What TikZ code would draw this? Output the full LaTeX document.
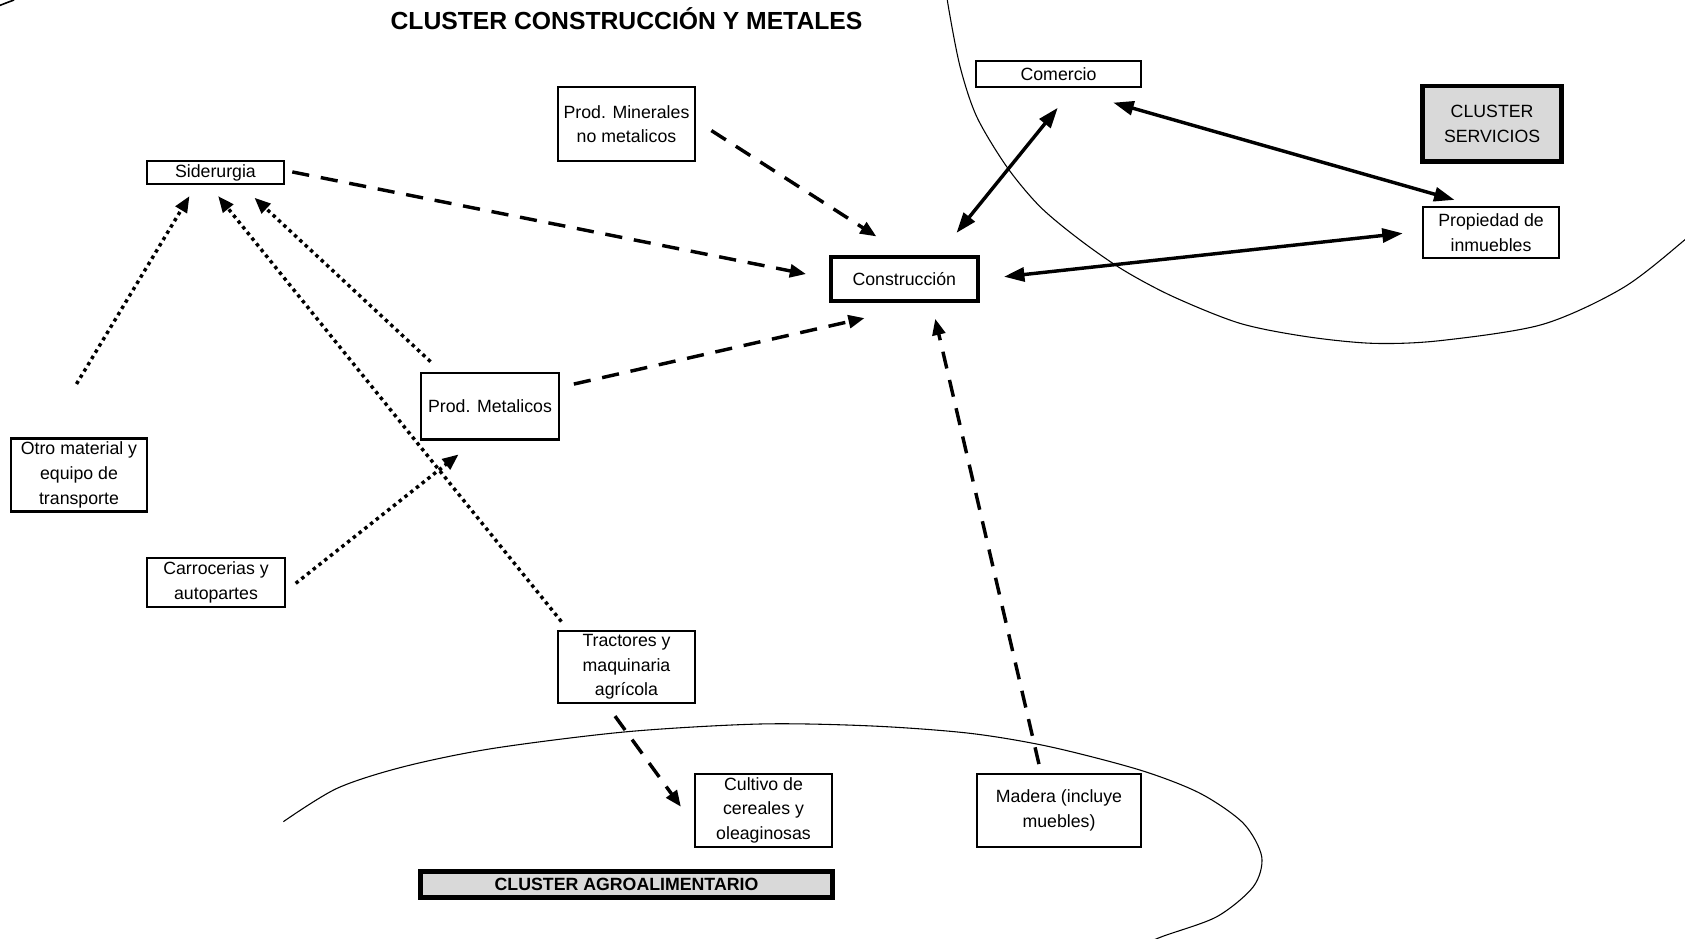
\documentclass[tikz,border=0pt]{standalone}
\usepackage{fontspec}
\setmainfont{Liberation Sans}
\usetikzlibrary{arrows.meta}
\begin{document}
\begin{tikzpicture}[x=1pt,y=-1pt,
  box/.style={draw, line width=2pt, inner sep=0pt, align=center, font=\fontsize{16.5}{23}\selectfont},
  thickbox/.style={box, line width=4pt},
  clusterbox/.style={box, line width=4.5pt, fill=black!15},
  dashedarrow/.style={line width=3.2pt, dash pattern=on 16pt off 11pt, -{Triangle[length=15pt,width=12pt]}},
  dottedarrow/.style={line width=3.2pt, dash pattern=on 3.2pt off 3.6pt, -{Triangle[length=15pt,width=12pt]}},
  bothsolid/.style={line width=3.2pt, {Triangle[length=19pt,width=13pt]}-{Triangle[length=19pt,width=13pt]}},
  clusterline/.style={line width=1pt}
]
\useasboundingbox (0,0) rectangle (1568,873);
\begin{scope}
\clip (0,0) rectangle (1568,873);
\draw[clusterline] plot[smooth] coordinates {(880,-15) (882.5,6.2) (893.4,62) (908.9,108.6) (936.8,155.1) (967.8,192.3) (1005,223.3) (1045.3,251.3) (1091.8,276.1) (1153.9,300.9) (1216,313.3) (1278,319.5) (1340,317) (1435,302) (1510,268) (1568,223) (1610,185)};
\draw[clusterline] plot[smooth] coordinates {(263.7,764.6) (313.6,733.6) (375.9,713.4) (459,696.4) (583.6,680.9) (708.2,673.7) (812.1,675.6) (902.7,682.4) (977.1,694.9) (1060.9,716.6) (1116.7,738.2) (1157,766.1) (1174.1,797.2) (1166.3,825.1) (1132.2,853.1) (1081,871.7) (1050,885)};
\draw[line width=1.5pt] (0,5) .. controls (5,3) .. (13,0);
\end{scope}

\node[font=\bfseries\fontsize{23}{27}\selectfont, anchor=base, inner sep=0pt] (title) at (583,27) {CLUSTER CONSTRUCCIÓN Y METALES};

\node[box, minimum width=127pt, minimum height=21pt] (sid) at (200.5,160.5) {Siderurgia};
\node[box, minimum width=128pt, minimum height=69pt] (min) at (583,115.5) {Prod. Minerales\\no metalicos};
\node[box, minimum width=154pt, minimum height=24pt] (com) at (985,69) {Comercio};
\node[clusterbox, minimum width=129pt, minimum height=70pt] (cser) at (1388.5,115) {CLUSTER\\SERVICIOS};
\node[box, minimum width=127pt, minimum height=47pt] (prop) at (1387.5,216.5) {Propiedad de\\inmuebles};
\node[thickbox, minimum width=137pt, minimum height=41pt] (cons) at (841.5,259.5) {Construcción};
\node[box, minimum width=128pt, minimum height=62pt] (met) at (456,378) {Prod. Metalicos};
\node[box, minimum width=127pt, minimum height=68pt] (otro) at (73.5,442) {Otro material y\\equipo de\\transporte};
\node[box, minimum width=128pt, minimum height=46pt] (carr) at (201,542) {Carrocerias y\\autopartes};
\node[box, minimum width=128pt, minimum height=67pt] (trac) at (583,620.5) {Tractores y\\maquinaria\\agrícola};
\node[box, minimum width=127pt, minimum height=68pt] (cult) at (710.5,754) {Cultivo de\\cereales y\\oleaginosas};
\node[box, minimum width=153pt, minimum height=68pt] (mad) at (985.5,754) {Madera (incluye\\muebles)};
\node[clusterbox, minimum width=384pt, minimum height=24pt, font=\bfseries\fontsize{16.5}{20}\selectfont] (cagro) at (583,823) {CLUSTER AGROALIMENTARIO};

\draw[dashedarrow] ([shift={(7,-0.5)}]sid.east) -- ([shift={(-21,-4.5)}]cons.west);
\draw[dashedarrow] ([shift={(14,6)}]min.east) -- ([shift={(-26,-17)}]cons.north);
\draw[dashedarrow] ([shift={(13,-20.6)}]met.east) -- ([shift={(-37,14)}]cons.south);
\draw[dashedarrow] ([shift={(-18.7,-8)}]mad.north) -- ([shift={(28.8,14.7)}]cons.south);
\draw[dashedarrow] ([shift={(-10.7,11.4)}]trac.south) -- ([shift={(-12.4,-3.3)}]cult.west);
\draw[bothsolid] ([shift={(-0.7,18.3)}]com.south) -- ([shift={(48.6,-20.3)}]cons.north);
\draw[bothsolid] ([shift={(-27,26.5)}]com.east) -- ([shift={(-34,-6)}]prop.north);
\draw[bothsolid] ([shift={(22.3,-2)}]cons.east) -- ([shift={(-17.7,0.6)}]prop.west);
\draw[dottedarrow] ([shift={(-2.3,-49.7)}]otro.north) -- ([shift={(-24.2,10.5)}]sid.south);
\draw[dottedarrow] ([shift={(-55.4,-9.5)}]met.north) -- ([shift={(36.3,12)}]sid.south);
\draw[dottedarrow] ([shift={(-60.6,-7.6)}]trac.north) -- ([shift={(2.5,10.5)}]sid.south);
\draw[dottedarrow] ([shift={(9.2,0.8)}]carr.east) -- ([shift={(-29.3,12.9)}]met.south);
\end{tikzpicture}
\end{document}
